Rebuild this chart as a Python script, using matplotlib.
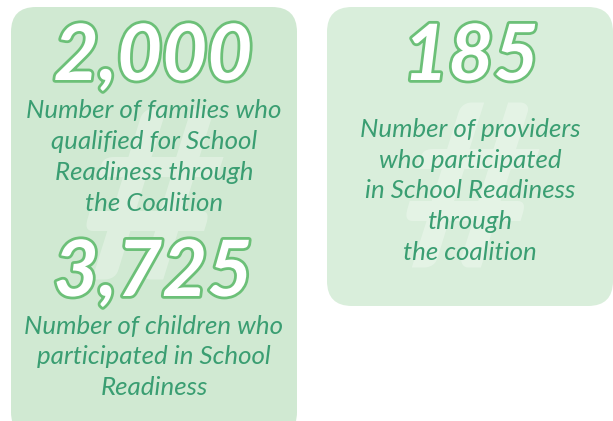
import matplotlib
matplotlib.use("Agg")
import matplotlib.pyplot as plt
from matplotlib.patches import FancyBboxPatch
import matplotlib.patheffects as pe

# figures shown on the cards
numbers = ["2,000", "3,725", "185"]
captions = [
    "Number of families who\nqualified for School\nReadiness through\nthe Coalition",
    "Number of children who\nparticipated in School\nReadiness",
    "Number of providers\nwho participated\nin School Readiness\nthrough\nthe coalition",
]
# card centre x and y of number / caption (pixels, y down)
num_pos = [(153, 58), (153, 274), (471, 58)]
cap_pos = [(154, 157), (154, 357), (470, 191)]

green_txt = "#3a9e72"
green_line = "#6cc078"

fig = plt.figure(figsize=(6.13, 4.21), dpi=100)
ax = fig.add_axes([0, 0, 1, 1])
ax.set_xlim(0, 613)
ax.set_ylim(421, 0)
ax.axis("off")

# cards
ax.add_patch(FancyBboxPatch((11, 7), 286, 430, boxstyle="round,pad=0,rounding_size=25",
                            fc="#d0e9d2", ec="none"))
ax.add_patch(FancyBboxPatch((327, 7), 286, 299, boxstyle="round,pad=0,rounding_size=25",
                            fc="#d9eedb", ec="none"))

# faint hash marks behind the text
ax.text(152, 280, "#", fontsize=170, family="Lato", style="italic", weight="bold",
        color="white", alpha=0.3, ha="center", va="baseline")
ax.text(470, 268, "#", fontsize=165, family="Lato", style="italic", weight="bold",
        color="white", alpha=0.3, ha="center", va="baseline")

for n, (x, y) in zip(numbers, num_pos):
    ax.text(x, y, n, fontsize=56, family="Lato", style="italic", weight="bold",
            color="white", ha="center", va="center",
            path_effects=[pe.withStroke(linewidth=4, foreground=green_line)])

for c, (x, y) in zip(captions, cap_pos):
    ax.text(x, y, c, fontsize=18.6, family="Lato", style="italic",
            color=green_txt, ha="center", va="center", linespacing=1.42)

fig.savefig("out.png", dpi=100)
